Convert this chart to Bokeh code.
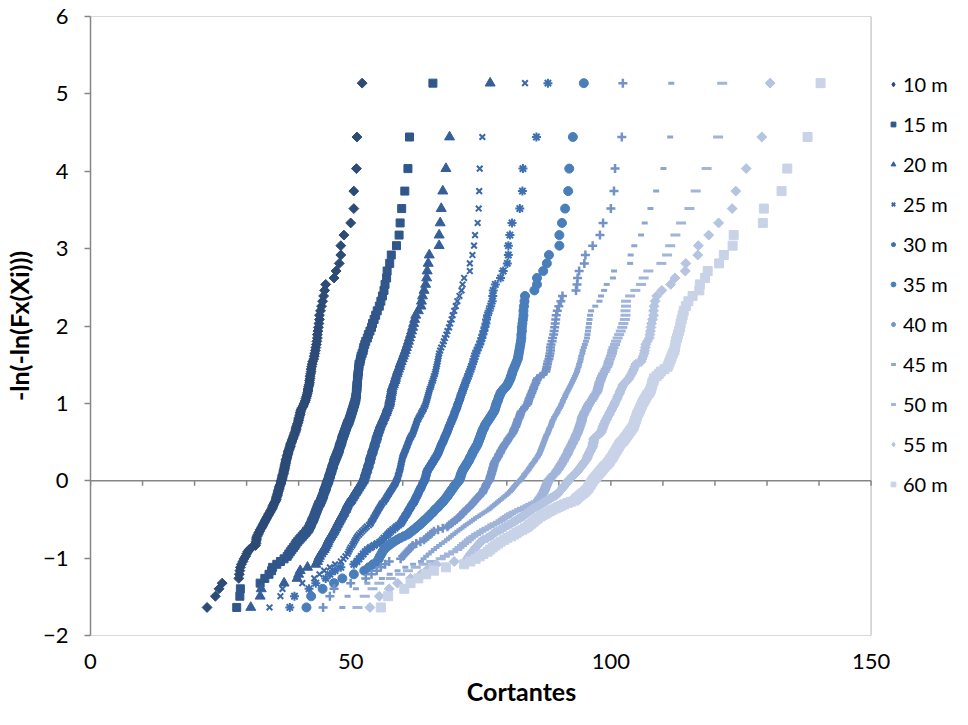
import numpy as np
from bokeh.plotting import figure
from bokeh.models import Legend, LegendItem, FixedTicker, Range1d, BoxAnnotation
from bokeh.embed import file_html
from bokeh.resources import INLINE

# ---------------- data (x values, sorted by rank) ----------------
series_labels = ["10 m", "15 m", "20 m", "25 m", "30 m", "35 m", "40 m", "45 m", "50 m", "55 m", "60 m"]

x_10m = [22.4, 24.0, 24.7, 25.3, 28.5, 28.6, 28.7, 28.8, 29.0, 29.3,
         29.5, 29.8, 30.0, 30.2, 30.5, 31.0, 31.7, 31.8, 31.8, 31.9,
         31.9, 32.0, 32.2, 32.3, 32.5, 32.6, 32.8, 33.0, 33.1, 33.3,
         33.4, 33.6, 33.7, 33.9, 34.0, 34.2, 34.3, 34.5, 34.6, 34.8,
         34.9, 35.0, 35.1, 35.2, 35.3, 35.5, 35.6, 35.7, 35.7, 35.8,
         35.9, 35.9, 36.0, 36.1, 36.1, 36.2, 36.3, 36.3, 36.4, 36.5,
         36.6, 36.6, 36.7, 36.8, 36.8, 36.9, 36.9, 37.0, 37.1, 37.1,
         37.2, 37.2, 37.3, 37.3, 37.4, 37.4, 37.5, 37.5, 37.6, 37.6,
         37.7, 37.8, 37.8, 37.9, 38.0, 38.0, 38.1, 38.2, 38.3, 38.4,
         38.4, 38.5, 38.6, 38.7, 38.8, 38.9, 39.0, 39.1, 39.2, 39.3,
         39.4, 39.5, 39.5, 39.6, 39.7, 39.8, 39.9, 40.0, 40.0, 40.1,
         40.2, 40.3, 40.3, 40.4, 40.5, 40.7, 40.9, 41.0, 41.2, 41.3,
         41.4, 41.5, 41.6, 41.7, 41.8, 41.8, 41.9, 42.0, 42.1, 42.1,
         42.2, 42.2, 42.3, 42.4, 42.4, 42.5, 42.6, 42.7, 42.9, 43.0,
         43.1, 43.2, 43.3, 43.4, 43.5, 43.6, 43.6, 43.7, 43.8, 43.9,
         44.0, 44.0, 44.2, 44.4, 44.6, 44.8, 45.0, 45.2, 46.8, 47.2,
         47.8, 48.1, 48.1, 48.7, 50.0, 50.6, 50.6, 51.1, 51.2, 52.2]

x_15m = [28.1, 28.7, 28.8, 32.6, 33.5, 34.3, 34.8, 35.0, 35.8, 36.5,
         37.2, 37.8, 38.1, 38.4, 38.7, 39.0, 39.3, 39.5, 39.8, 40.1,
         40.4, 40.7, 41.0, 41.3, 41.5, 41.8, 42.0, 42.1, 42.3, 42.4,
         42.5, 42.6, 42.8, 42.9, 43.0, 43.1, 43.2, 43.3, 43.4, 43.5,
         43.6, 43.7, 43.8, 43.9, 44.1, 44.2, 44.3, 44.4, 44.5, 44.6,
         44.7, 44.8, 44.8, 44.9, 45.0, 45.1, 45.2, 45.3, 45.3, 45.4,
         45.5, 45.6, 45.7, 45.8, 45.8, 45.9, 46.0, 46.1, 46.1, 46.2,
         46.3, 46.4, 46.4, 46.5, 46.6, 46.7, 46.7, 46.8, 46.9, 47.0,
         47.1, 47.2, 47.3, 47.4, 47.5, 47.6, 47.7, 47.8, 47.8, 47.9,
         48.0, 48.1, 48.2, 48.3, 48.3, 48.4, 48.5, 48.6, 48.7, 48.8,
         48.9, 49.0, 49.1, 49.2, 49.3, 49.4, 49.6, 49.7, 49.8, 49.9,
         50.0, 50.1, 50.2, 50.3, 50.4, 50.5, 50.6, 50.7, 50.8, 50.9,
         51.0, 51.0, 51.1, 51.1, 51.1, 51.2, 51.2, 51.2, 51.3, 51.3,
         51.3, 51.4, 51.4, 51.5, 51.5, 51.6, 51.6, 51.8, 51.9, 52.0,
         52.2, 52.4, 52.5, 52.7, 52.9, 53.2, 53.4, 53.7, 54.0, 54.2,
         54.5, 54.8, 55.1, 55.5, 55.8, 56.1, 56.4, 56.6, 56.9, 57.0,
         57.5, 57.8, 58.8, 59.3, 59.5, 59.8, 60.4, 61.0, 61.3, 65.8]

x_20m = [30.8, 32.6, 32.8, 37.2, 39.7, 40.0, 40.3, 41.7, 43.3, 43.6,
         43.8, 44.0, 44.3, 44.6, 44.9, 45.1, 45.3, 45.5, 45.6, 45.8,
         46.0, 46.2, 46.4, 46.6, 46.8, 46.9, 47.1, 47.2, 47.4, 47.5,
         47.7, 47.8, 48.0, 48.1, 48.3, 48.4, 48.6, 48.7, 48.8, 49.0,
         49.1, 49.2, 49.3, 49.4, 49.6, 49.8, 50.0, 50.1, 50.3, 50.4,
         50.6, 50.7, 50.9, 51.0, 51.2, 51.3, 51.5, 51.6, 51.8, 51.9,
         52.1, 52.2, 52.4, 52.5, 52.5, 52.6, 52.7, 52.8, 52.8, 52.9,
         53.0, 53.1, 53.1, 53.2, 53.3, 53.4, 53.4, 53.5, 53.6, 53.7,
         53.7, 53.8, 53.8, 53.9, 54.0, 54.1, 54.2, 54.2, 54.3, 54.4,
         54.5, 54.6, 54.6, 54.7, 54.8, 54.9, 55.0, 55.0, 55.1, 55.2,
         55.3, 55.4, 55.5, 55.6, 55.7, 55.8, 56.0, 56.1, 56.2, 56.4,
         56.5, 56.6, 56.8, 56.9, 57.0, 57.1, 57.3, 57.4, 57.5, 57.5,
         57.6, 57.7, 57.7, 57.8, 57.9, 57.9, 58.0, 58.2, 58.3, 58.5,
         58.6, 58.7, 58.9, 59.0, 59.2, 59.4, 59.5, 59.7, 59.9, 60.1,
         60.3, 60.5, 60.7, 60.9, 61.1, 61.3, 61.5, 61.7, 61.9, 62.1,
         62.3, 62.5, 63.0, 63.5, 63.6, 63.8, 64.1, 64.4, 64.6, 64.7,
         64.9, 65.1, 67.0, 67.0, 67.2, 67.4, 67.7, 68.3, 69.0, 76.8]

x_25m = [34.4, 36.5, 36.9, 40.7, 43.0, 44.0, 44.9, 46.0, 47.0, 48.1,
         48.6, 49.0, 49.4, 49.6, 49.8, 50.0, 50.3, 50.5, 50.7, 50.9,
         51.1, 51.3, 51.6, 51.9, 52.2, 52.5, 52.8, 53.1, 53.5, 53.8,
         53.9, 54.1, 54.3, 54.4, 54.6, 54.7, 54.9, 55.0, 55.2, 55.3,
         55.5, 55.6, 55.8, 55.9, 56.1, 56.4, 56.5, 56.7, 56.8, 57.0,
         57.1, 57.3, 57.4, 57.6, 57.7, 57.9, 58.0, 58.2, 58.3, 58.5,
         58.6, 58.7, 58.8, 58.9, 59.0, 59.1, 59.1, 59.2, 59.3, 59.3,
         59.4, 59.5, 59.5, 59.6, 59.6, 59.7, 59.7, 59.8, 59.8, 59.9,
         59.9, 60.0, 60.1, 60.2, 60.3, 60.4, 60.5, 60.6, 60.7, 60.8,
         60.9, 61.0, 61.1, 61.2, 61.3, 61.4, 61.6, 61.7, 61.9, 62.0,
         62.1, 62.2, 62.3, 62.4, 62.5, 62.6, 62.7, 62.8, 63.0, 63.1,
         63.3, 63.5, 63.6, 63.8, 64.0, 64.1, 64.3, 64.4, 64.5, 64.6,
         64.7, 64.8, 64.9, 65.0, 65.1, 65.2, 65.4, 65.5, 65.6, 65.8,
         65.9, 66.0, 66.2, 66.3, 66.4, 66.5, 66.6, 66.7, 66.8, 66.9,
         67.0, 67.2, 67.4, 67.7, 67.9, 68.1, 68.4, 68.6, 68.9, 69.1,
         69.4, 69.6, 69.9, 70.2, 70.5, 70.9, 71.3, 71.5, 71.8, 72.9,
         72.9, 73.4, 73.7, 73.9, 74.4, 74.6, 74.7, 74.8, 75.3, 83.5]

x_30m = [38.3, 39.2, 42.0, 43.3, 45.2, 46.0, 47.0, 48.1, 50.6, 51.2,
         51.6, 52.0, 52.4, 52.8, 53.2, 53.8, 54.5, 55.1, 55.8, 56.1,
         56.4, 56.8, 57.1, 57.4, 57.7, 58.1, 58.5, 58.8, 59.2, 59.6,
         59.8, 59.9, 60.1, 60.3, 60.4, 60.6, 60.8, 60.9, 61.1, 61.2,
         61.4, 61.5, 61.7, 61.8, 62.0, 62.2, 62.3, 62.4, 62.5, 62.6,
         62.8, 62.9, 63.0, 63.1, 63.2, 63.3, 63.5, 63.6, 63.7, 63.8,
         63.9, 64.0, 64.2, 64.3, 64.3, 64.4, 64.5, 64.5, 64.6, 64.6,
         64.7, 64.9, 65.0, 65.2, 65.3, 65.5, 65.6, 65.8, 65.9, 66.1,
         66.2, 66.4, 66.5, 66.7, 66.8, 66.9, 67.0, 67.1, 67.2, 67.3,
         67.4, 67.5, 67.7, 67.8, 67.9, 68.0, 68.1, 68.2, 68.4, 68.5,
         68.6, 68.7, 68.8, 68.9, 69.0, 69.2, 69.3, 69.4, 69.5, 69.7,
         69.8, 69.9, 70.0, 70.1, 70.3, 70.4, 70.5, 70.6, 70.7, 70.9,
         71.0, 71.1, 71.2, 71.4, 71.5, 71.6, 71.8, 71.9, 72.1, 72.2,
         72.4, 72.6, 72.7, 72.9, 73.1, 73.2, 73.4, 73.6, 73.7, 73.9,
         74.0, 74.3, 74.5, 74.8, 75.0, 75.2, 75.4, 75.6, 75.8, 76.0,
         76.1, 76.3, 76.6, 76.9, 77.2, 77.3, 77.4, 77.8, 78.8, 79.3,
         80.1, 80.3, 80.3, 80.6, 81.0, 82.5, 83.0, 83.1, 85.7, 87.9]

x_35m = [41.5, 42.4, 44.6, 46.8, 48.4, 50.6, 52.6, 53.5, 54.3, 55.1,
         55.4, 55.6, 55.9, 56.1, 56.4, 56.8, 57.3, 57.8, 58.3, 58.9,
         59.5, 60.2, 60.9, 61.3, 61.7, 62.1, 62.5, 62.8, 63.2, 63.5,
         63.8, 64.1, 64.4, 64.7, 65.0, 65.2, 65.5, 65.8, 66.0, 66.2,
         66.5, 66.8, 67.0, 67.2, 67.5, 67.7, 67.9, 68.1, 68.3, 68.5,
         68.7, 68.8, 69.0, 69.2, 69.3, 69.5, 69.7, 69.8, 70.0, 70.2,
         70.4, 70.6, 70.8, 70.9, 71.0, 71.1, 71.1, 71.2, 71.3, 71.4,
         71.5, 71.6, 71.8, 71.9, 72.1, 72.2, 72.4, 72.5, 72.7, 72.8,
         72.9, 73.0, 73.2, 73.3, 73.4, 73.5, 73.7, 73.8, 74.0, 74.1,
         74.3, 74.4, 74.5, 74.6, 74.7, 74.8, 74.9, 75.0, 75.1, 75.2,
         75.3, 75.4, 75.6, 75.7, 75.8, 76.0, 76.2, 76.4, 76.6, 76.8,
         77.0, 77.2, 77.4, 77.6, 77.7, 77.8, 77.9, 78.0, 78.1, 78.3,
         78.4, 78.5, 78.7, 78.8, 79.1, 79.4, 79.8, 80.1, 80.3, 80.5,
         80.7, 80.8, 81.0, 81.1, 81.3, 81.5, 81.7, 81.9, 82.1, 82.2,
         82.3, 82.4, 82.5, 82.6, 82.7, 82.8, 82.8, 82.9, 82.9, 83.0,
         83.1, 83.2, 83.2, 83.3, 83.4, 83.5, 85.3, 85.8, 85.8, 87.0,
         87.7, 88.1, 90.1, 90.1, 90.6, 91.2, 91.8, 92.0, 92.7, 94.8]

x_40m = [44.7, 46.0, 46.8, 50.0, 52.9, 54.0, 55.0, 55.8, 56.6, 57.4,
         59.6, 60.0, 60.4, 60.8, 61.2, 61.6, 61.9, 62.6, 63.4, 64.1,
         64.5, 64.9, 65.3, 65.6, 66.0, 66.8, 67.7, 68.6, 68.9, 69.3,
         69.6, 70.0, 70.4, 70.7, 71.0, 71.2, 71.5, 71.7, 72.0, 72.2,
         72.5, 72.8, 73.0, 73.3, 73.5, 73.7, 73.9, 74.1, 74.3, 74.5,
         74.8, 75.0, 75.3, 75.4, 75.5, 75.6, 75.8, 75.9, 76.0, 76.1,
         76.3, 76.4, 76.6, 76.7, 76.8, 76.8, 76.9, 77.0, 77.1, 77.1,
         77.2, 77.3, 77.3, 77.4, 77.5, 77.5, 77.6, 77.7, 77.8, 78.0,
         78.1, 78.3, 78.4, 78.5, 78.7, 78.8, 78.9, 79.1, 79.2, 79.4,
         79.5, 79.7, 79.9, 80.1, 80.2, 80.4, 80.6, 80.8, 81.0, 81.2,
         81.3, 81.4, 81.5, 81.7, 81.8, 81.9, 82.0, 82.1, 82.2, 82.4,
         82.5, 82.6, 82.7, 82.9, 83.2, 83.4, 83.7, 84.0, 84.1, 84.2,
         84.3, 84.5, 84.6, 84.8, 84.9, 85.1, 85.2, 85.4, 85.6, 85.7,
         85.9, 86.5, 87.0, 87.5, 87.6, 87.7, 87.8, 87.9, 88.1, 88.2,
         88.3, 88.4, 88.4, 88.5, 88.7, 88.8, 89.0, 89.1, 89.2, 89.3,
         89.4, 89.5, 89.7, 90.0, 90.4, 90.7, 93.3, 93.5, 93.6, 93.9,
         94.9, 95.1, 96.5, 97.9, 98.5, 100.0, 100.6, 100.8, 102.1, 102.3]

x_45m = [48.4, 49.4, 51.0, 53.2, 56.0, 57.5, 59.0, 60.5, 62.0, 63.5,
         64.0, 64.5, 65.0, 65.5, 66.0, 66.5, 67.0, 67.5, 68.0, 68.5,
         68.9, 69.3, 69.7, 70.1, 70.5, 70.9, 71.3, 71.7, 72.1, 72.5,
         72.9, 73.3, 73.7, 74.1, 74.5, 74.9, 75.3, 75.7, 76.1, 76.5,
         76.8, 77.1, 77.4, 77.7, 78.0, 78.3, 78.6, 78.9, 79.2, 79.5,
         79.8, 80.1, 80.3, 80.6, 80.8, 81.0, 81.2, 81.4, 81.6, 81.8,
         82.0, 82.3, 82.5, 82.7, 82.9, 83.1, 83.3, 83.4, 83.6, 83.8,
         84.0, 84.2, 84.3, 84.5, 84.7, 84.8, 85.0, 85.2, 85.4, 85.5,
         85.7, 85.9, 86.0, 86.2, 86.3, 86.4, 86.5, 86.6, 86.7, 86.8,
         86.9, 87.0, 87.1, 87.2, 87.3, 87.4, 87.5, 87.6, 87.8, 87.9,
         88.0, 88.1, 88.2, 88.4, 88.5, 88.6, 88.7, 88.8, 89.0, 89.1,
         89.3, 89.5, 89.7, 89.8, 90.0, 90.2, 90.4, 90.5, 90.7, 90.8,
         91.0, 91.2, 91.3, 91.5, 91.7, 91.9, 92.1, 92.3, 92.5, 92.7,
         92.9, 93.1, 93.3, 93.5, 93.6, 93.8, 93.9, 94.1, 94.2, 94.3,
         94.5, 94.6, 94.8, 95.0, 95.2, 95.4, 95.5, 95.6, 95.7, 95.8,
         95.9, 96.0, 96.2, 97.0, 97.8, 98.1, 98.7, 99.2, 100.4, 100.6,
         103.7, 103.8, 104.5, 105.8, 106.5, 107.6, 108.7, 110.1, 111.4, 111.6]

x_50m = [51.3, 52.7, 54.2, 55.5, 57.7, 59.5, 61.0, 62.5, 64.0, 65.5,
         67.3, 68.1, 68.9, 69.7, 70.5, 70.9, 71.4, 71.8, 72.3, 72.7,
         73.1, 73.6, 74.1, 74.6, 75.1, 75.6, 76.1, 76.7, 77.2, 77.7,
         78.3, 78.8, 79.2, 79.6, 80.0, 80.4, 80.8, 81.3, 81.9, 82.4,
         82.9, 83.5, 84.0, 84.5, 85.0, 85.5, 86.0, 86.2, 86.3, 86.5,
         86.7, 86.8, 87.0, 87.1, 87.2, 87.3, 87.4, 87.5, 87.6, 87.7,
         87.8, 87.9, 88.0, 88.2, 88.4, 88.6, 88.8, 89.0, 89.3, 89.5,
         89.6, 89.8, 90.0, 90.1, 90.3, 90.4, 90.6, 90.7, 90.9, 91.0,
         91.1, 91.3, 91.4, 91.6, 91.7, 91.8, 91.9, 92.0, 92.2, 92.3,
         92.4, 92.6, 92.7, 92.8, 93.0, 93.1, 93.2, 93.3, 93.5, 93.6,
         93.7, 93.8, 93.9, 94.0, 94.1, 94.2, 94.3, 94.4, 94.4, 94.5,
         94.6, 94.8, 94.9, 95.1, 95.3, 95.4, 95.6, 95.8, 96.0, 96.3,
         96.5, 96.7, 96.9, 97.2, 97.4, 97.5, 97.6, 97.7, 97.8, 98.0,
         98.1, 98.3, 98.5, 98.8, 99.0, 99.3, 99.5, 99.6, 99.8, 100.0,
         100.2, 100.3, 100.5, 100.8, 101.0, 101.3, 101.6, 101.9, 102.2, 102.4,
         102.7, 102.8, 102.8, 102.9, 102.9, 103.7, 104.7, 105.8, 106.3, 107.2,
         109.7, 110.8, 111.4, 112.4, 113.5, 115.1, 116.3, 118.4, 120.6, 121.4]

x_55m = [53.7, 55.5, 57.4, 59.0, 61.5, 63.5, 64.5, 65.4, 66.5, 69.9,
         72.4, 72.7, 73.0, 73.4, 73.7, 74.0, 74.4, 74.7, 75.0, 75.5,
         76.2, 76.8, 77.2, 77.6, 78.1, 78.7, 79.2, 79.7, 80.3, 80.8,
         81.2, 81.7, 82.1, 82.6, 83.0, 83.4, 83.7, 84.0, 84.4, 84.8,
         85.2, 85.7, 86.1, 86.5, 86.9, 87.3, 87.7, 88.1, 88.5, 88.9,
         89.3, 89.7, 89.9, 90.1, 90.3, 90.5, 90.7, 90.9, 91.1, 91.3,
         91.5, 91.7, 91.8, 92.0, 92.3, 92.5, 92.7, 93.0, 93.2, 93.5,
         93.7, 93.8, 94.0, 94.2, 94.4, 94.6, 94.7, 94.9, 95.1, 95.3,
         95.4, 95.5, 95.6, 95.7, 95.8, 96.0, 96.1, 96.2, 96.4, 96.5,
         96.5, 96.6, 96.6, 96.7, 96.7, 96.8, 97.1, 97.4, 97.8, 98.1,
         98.2, 98.3, 98.4, 98.5, 98.6, 98.7, 98.9, 99.0, 99.2, 99.3,
         99.5, 99.7, 99.8, 100.0, 100.2, 100.3, 100.5, 100.7, 100.8, 101.0,
         101.2, 101.3, 101.5, 101.7, 101.8, 102.0, 102.2, 102.3, 102.7, 103.1,
         103.5, 103.7, 104.0, 104.2, 104.4, 104.6, 104.8, 105.8, 106.0, 106.2,
         106.4, 106.5, 106.6, 106.7, 107.0, 107.4, 107.5, 107.6, 107.7, 107.8,
         108.0, 108.2, 108.2, 108.3, 108.5, 108.8, 109.8, 111.5, 112.3, 114.3,
         114.4, 116.7, 116.8, 118.8, 120.7, 123.3, 124.0, 126.0, 129.0, 130.6]

x_60m = [55.8, 57.2, 60.3, 61.5, 63.0, 64.5, 66.0, 68.3, 71.8, 73.0,
         74.0, 74.8, 75.5, 76.3, 76.8, 77.3, 77.8, 78.3, 78.8, 79.5,
         80.1, 80.8, 81.4, 81.9, 82.4, 83.0, 83.5, 84.0, 84.3, 84.7,
         85.0, 85.3, 85.7, 86.0, 86.5, 86.9, 87.4, 87.8, 88.3, 88.8,
         89.4, 89.9, 90.4, 91.0, 91.7, 92.3, 93.0, 93.3, 93.5, 93.8,
         94.1, 94.4, 94.7, 95.0, 95.2, 95.5, 95.6, 95.8, 95.9, 96.1,
         96.2, 96.4, 96.5, 96.7, 96.9, 97.1, 97.3, 97.5, 97.7, 97.9,
         98.1, 98.3, 98.5, 98.7, 98.9, 99.2, 99.4, 99.6, 99.8, 99.9,
         100.1, 100.3, 100.4, 100.6, 100.7, 100.9, 101.0, 101.2, 101.3, 101.5,
         101.6, 101.8, 102.0, 102.3, 102.5, 102.7, 102.9, 103.1, 103.3, 103.5,
         103.7, 103.9, 104.1, 104.3, 104.4, 104.5, 104.6, 104.7, 104.8, 104.9,
         105.0, 105.1, 105.3, 105.4, 105.6, 105.7, 105.9, 106.0, 106.2, 106.4,
         106.6, 106.8, 107.0, 107.3, 107.5, 107.7, 107.8, 107.9, 108.0, 108.2,
         108.3, 108.8, 109.2, 109.6, 110.3, 110.9, 111.1, 111.3, 111.5, 111.7,
         111.9, 112.2, 112.3, 112.4, 112.5, 112.7, 112.9, 113.1, 113.3, 113.4,
         113.6, 113.8, 114.0, 114.4, 114.9, 115.7, 117.0, 117.1, 118.1, 118.6,
         120.8, 121.7, 123.4, 123.6, 129.2, 129.4, 132.8, 133.9, 137.8, 140.3]

series_x = [x_10m, x_15m, x_20m, x_25m, x_30m, x_35m, x_40m, x_45m, x_50m, x_55m, x_60m]

x_min, x_max = 0, 150
y_min, y_max = -2, 6
x_ticks = [0, 50, 100, 150]
y_ticks = [-2, -1, 0, 1, 2, 3, 4, 5, 6]
x_minor_ticks = list(range(0, 151, 10))

# plotting position of each ranked value: Fx(Xi) = i/(n+1), y = -ln(-ln(Fx(Xi)))
n_obs = len(x_10m)
rank = np.arange(1, n_obs + 1)
Fx = rank / (n_obs + 1)
gumbel_y = -np.log(-np.log(Fx))

# ---------------- layout (screen pixels) ----------------
FIG_W, FIG_H = 952, 709
LEFT, TOP = 84, 16
FRAME_BOTTOM = 635          # figure y of the plot-area bottom edge
PLOT_W = 786                # width of the 0..150 plot area
frame_w = FIG_W - LEFT
frame_h = FRAME_BOTTOM - TOP
x_view_max = x_max * frame_w / PLOT_W   # frame extends right to hold the legend

FONT = "Lato"
colors = ["#2C4B76", "#31568A", "#365F99", "#3B68A7", "#3F70B2", "#4A7EBB",
          "#7393C8", "#8CA6D1", "#A1B4DA", "#B5C4E1", "#C9D3E8"]
markers = [
    dict(marker="square", angle=np.pi / 4, size=7),
    dict(marker="square", size=8),
    dict(marker="triangle", size=10),
    dict(marker="x", size=8, line_width=2),
    dict(marker="asterisk", size=9, line_width=2),
    dict(marker="circle", size=9),
    dict(marker="cross", size=9, line_width=2.5),
    dict(marker="dash", size=6, line_width=3),
    dict(marker="dash", size=10, line_width=3),
    dict(marker="square", angle=np.pi / 4, size=7),
    dict(marker="square", size=9),
]

p = figure(width=FIG_W, height=FIG_H, output_backend="svg", toolbar_location=None,
           x_range=Range1d(x_min, x_view_max), y_range=Range1d(y_min, y_max),
           min_border_left=LEFT, min_border_right=0, min_border_top=TOP,
           min_border_bottom=FIG_H - FRAME_BOTTOM)
p.background_fill_color = "white"
p.border_fill_color = "white"
p.outline_line_color = None
p.xgrid.visible = False
p.ygrid.visible = False

# plot-area border (black box around 0..150 x -2..6)
p.add_layout(BoxAnnotation(left=x_min, right=x_max, bottom=y_min, top=y_max,
                           fill_alpha=0, line_color="black", line_width=1, level="underlay"))

# y axis
p.yaxis.ticker = FixedTicker(ticks=y_ticks)
p.yaxis.axis_line_color = "#868686"
p.yaxis.axis_line_width = 1.5
p.yaxis.major_tick_line_color = "#868686"
p.yaxis.major_tick_line_width = 1.5
p.yaxis.major_tick_out = 6
p.yaxis.major_tick_in = 0
p.yaxis.minor_tick_line_color = None
p.yaxis.major_label_text_font = FONT
p.yaxis.major_label_text_font_size = "22px"
p.yaxis.major_label_text_color = "black"
p.yaxis.major_label_standoff = 16
p.yaxis.axis_label = "-ln(-ln(Fx(Xi)))"
p.yaxis.axis_label_text_font = FONT
p.yaxis.axis_label_text_font_size = "25px"
p.yaxis.axis_label_text_font_style = "bold"
p.yaxis.axis_label_text_color = "black"
p.yaxis.axis_label_standoff = 6

# x axis (labels at the bottom)
p.xaxis.ticker = FixedTicker(ticks=x_ticks)
p.xaxis.axis_line_color = None
p.xaxis.major_tick_line_color = None
p.xaxis.minor_tick_line_color = None
p.xaxis.major_label_text_font = FONT
p.xaxis.major_label_text_font_size = "22px"
p.xaxis.major_label_text_color = "black"
p.xaxis.major_label_standoff = 12
p.xaxis.axis_label = "Cortantes"
p.xaxis.axis_label_text_font = FONT
p.xaxis.axis_label_text_font_size = "25px"
p.xaxis.axis_label_text_font_style = "bold"
p.xaxis.axis_label_text_color = "black"
p.xaxis.axis_label_standoff = 4

# horizontal axis line crossing at y = 0, with its tick marks
tick_len = 5 * (y_max - y_min) / frame_h
p.segment(x0=[x_min], y0=[0], x1=[x_max], y1=[0], line_color="#868686", line_width=1.5)
p.segment(x0=x_minor_ticks, y0=[0] * len(x_minor_ticks), x1=x_minor_ticks,
          y1=[-tick_len] * len(x_minor_ticks), line_color="#868686", line_width=1.5)

items = []
for lab, xs, c, m in zip(series_labels, series_x, colors, markers):
    p.scatter(x=xs, y=gumbel_y, fill_color=c, line_color=c, **m)
    # legend swatch: same marker, kept off the plot (no position)
    lm = dict(m)
    if lm.get("angle"):
        lm = dict(marker="diamond", size=11)
    proxy = p.scatter(x=np.array([np.nan]), y=np.array([np.nan]), fill_color=c, line_color=c, **lm)
    items.append(LegendItem(label=lab, renderers=[proxy]))

ENTRY_H, SPACING = 28, 12
legend_h = 11 * ENTRY_H + 10 * SPACING
legend_top = 84 - ENTRY_H // 2            # figure y of the first entry's top
legend = Legend(items=items,
                location=(881 - LEFT, FRAME_BOTTOM - legend_top - legend_h),
                orientation="vertical",
                label_text_font=FONT, label_text_font_size="20px", label_text_color="black",
                glyph_width=12, glyph_height=ENTRY_H, label_height=ENTRY_H, label_standoff=4,
                spacing=SPACING, padding=0, margin=0,
                border_line_color=None, background_fill_alpha=0)
p.add_layout(legend)

open("out.html", "w").write(file_html(p, INLINE))
